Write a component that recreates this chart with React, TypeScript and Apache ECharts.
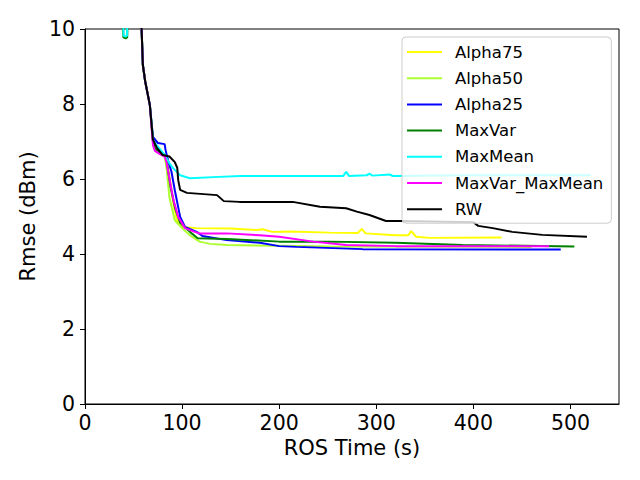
import React, { useEffect, useRef } from "react";
import * as echarts from "echarts";

const xTicks = [0, 100, 200, 300, 400, 500];
const yTicks = [0, 2, 4, 6, 8, 10];

const seriesNames = ["Alpha75", "Alpha50", "Alpha25", "MaxVar", "MaxMean", "MaxVar_MaxMean", "RW"];
const seriesColors = ["#ffff00", "#adff2f", "#0000ff", "#008000", "#00ffff", "#ff00ff", "#000000"];

const steepDrop = [[56, 11], [58.3, 10], [59.6, 9.04], [62, 8.6], [66.8, 7.97]];

const alpha75 = [[38, 12], ...steepDrop, [70, 7.0], [72, 6.8], [78, 6.72], [82, 6.65], [84, 6.5], [88, 5.9], [91, 5.35], [94.6, 4.9], [101, 4.72], [115, 4.69], [150, 4.68], [177, 4.64], [183, 4.66], [193, 4.59], [211, 4.6], [252, 4.57], [281, 4.56], [285, 4.67], [289, 4.55], [320, 4.5], [333, 4.5], [336, 4.61], [341, 4.46], [355, 4.43], [429, 4.44]];
const alpha50 = [[38, 12], ...steepDrop, [70, 7.0], [72, 6.8], [78, 6.7], [82, 6.6], [84, 6.3], [87, 5.5], [92.5, 4.9], [100, 4.69], [108, 4.5], [118, 4.33], [129, 4.27], [146, 4.24], [200, 4.22], [252, 4.2], [460, 4.19]];
const alpha25 = [[38, 12], ...steepDrop, [70, 7.12], [75, 6.96], [82, 6.93], [83, 6.77], [86, 6.45], [89, 6.2], [92.5, 5.7], [98, 4.99], [103, 4.72], [115, 4.59], [121, 4.48], [146, 4.37], [180, 4.3], [200, 4.21], [218, 4.19], [286, 4.13], [490, 4.12]];
const maxVar = [[38, 12], [39.5, 9.78], [42, 9.75], [43.5, 9.78], [45, 12], ...steepDrop, [70, 7.0], [72, 6.8], [78, 6.7], [82, 6.65], [84, 6.5], [88, 5.8], [93, 5.2], [98, 4.83], [108, 4.59], [116, 4.42], [146, 4.4], [200, 4.33], [252, 4.33], [320, 4.3], [389, 4.24], [504, 4.2]];
const maxMean = [[38, 12], [39.7, 9.82], [42, 9.8], [43.3, 9.82], [45, 12], ...steepDrop, [70, 7.05], [72, 6.96], [82, 6.64], [87, 6.42], [90.7, 6.29], [98, 6.1], [108, 6.02], [132, 6.05], [160, 6.08], [240, 6.08], [266, 6.08], [269, 6.19], [272, 6.08], [290, 6.1], [293, 6.14], [296, 6.09], [314, 6.12], [317, 6.08], [400, 6.1], [521, 6.1]];
const maxVarMaxMean = [[38, 12], ...steepDrop, [70, 6.9], [72, 6.75], [78, 6.65], [82, 6.6], [84, 6.45], [87, 6.0], [91, 5.45], [96, 4.99], [103, 4.69], [113, 4.59], [118, 4.55], [146, 4.55], [180, 4.5], [200, 4.46], [235, 4.33], [269, 4.24], [320, 4.21], [478, 4.21]];
const rw = [[38, 12], ...steepDrop, [70, 7.05], [74, 6.83], [80, 6.64], [87, 6.6], [92.5, 6.45], [95, 6.3], [96, 5.97], [98, 5.71], [105, 5.63], [136, 5.57], [143, 5.41], [159, 5.39], [214, 5.39], [242, 5.26], [269, 5.22], [280, 5.13], [293, 5.04], [310, 4.88], [324, 4.88], [400, 4.85], [405, 4.75], [420, 4.69], [440, 4.59], [471, 4.51], [517, 4.46]];

const allData = [alpha75, alpha50, alpha25, maxVar, maxMean, maxVarMaxMean, rw];

const FONT = "DejaVu Sans";

export default function App() {
  const ref = useRef<HTMLDivElement>(null);
  useEffect(() => {
    if (!ref.current) return;
    const chart = echarts.init(ref.current, undefined, { renderer: "svg" });
    chart.setOption({
      animation: false,
      backgroundColor: "#ffffff",
      grid: {
        left: 85,
        right: 21,
        top: 29,
        bottom: 76,
        show: true,
        borderColor: "#000",
        borderWidth: 1,
        backgroundColor: "transparent",
      },
      xAxis: {
        type: "value",
        min: 0,
        max: 550,
        interval: 100,
        name: "ROS Time (s)",
        nameLocation: "middle",
        nameGap: 33,
        nameTextStyle: { fontFamily: FONT, fontSize: 21, color: "#000" },
        axisLine: { show: true, onZero: false, lineStyle: { color: "#000", width: 1 } },
        axisTick: { show: true, inside: false, length: 5, lineStyle: { color: "#000" }, customValues: xTicks },
        axisLabel: { fontFamily: FONT, fontSize: 20.5, color: "#000", margin: 8, customValues: xTicks },
        splitLine: { show: false },
      },
      yAxis: {
        type: "value",
        min: 0,
        max: 10,
        interval: 2,
        name: "Rmse (dBm)",
        nameLocation: "middle",
        nameGap: 45,
        nameRotate: 90,
        nameTextStyle: { fontFamily: FONT, fontSize: 21, color: "#000" },
        axisLine: { show: true, onZero: false, lineStyle: { color: "#000", width: 1 } },
        axisTick: { show: true, inside: false, length: 5, lineStyle: { color: "#000" }, customValues: yTicks },
        axisLabel: { fontFamily: FONT, fontSize: 20.5, color: "#000", margin: 10, customValues: yTicks },
        splitLine: { show: false },
      },
      legend: {
        orient: "vertical",
        left: 402,
        top: 37,
        icon: "rect",
        itemWidth: 35,
        itemHeight: 2,
        itemGap: 8.2,
        padding: [6, 8, 5, 5],
        backgroundColor: "rgba(255,255,255,0.8)",
        borderColor: "#cccccc",
        borderWidth: 1,
        borderRadius: 4,
        textStyle: { fontFamily: FONT, fontSize: 16.5, color: "#000", lineHeight: 18, padding: [0, 0, 0, 8] },
        data: seriesNames,
      },
      series: allData.map((d, i) => ({
        name: seriesNames[i],
        type: "line",
        data: d,
        showSymbol: false,
        symbol: "none",
        clip: true,
        lineStyle: { color: seriesColors[i], width: 2 },
        itemStyle: { color: seriesColors[i] },
        emphasis: { disabled: true },
      })),
    });
    return () => chart.dispose();
  }, []);
  return <div ref={ref} style={{ width: 640, height: 480, position: "absolute", left: 0, top: 0 }} />;
}
